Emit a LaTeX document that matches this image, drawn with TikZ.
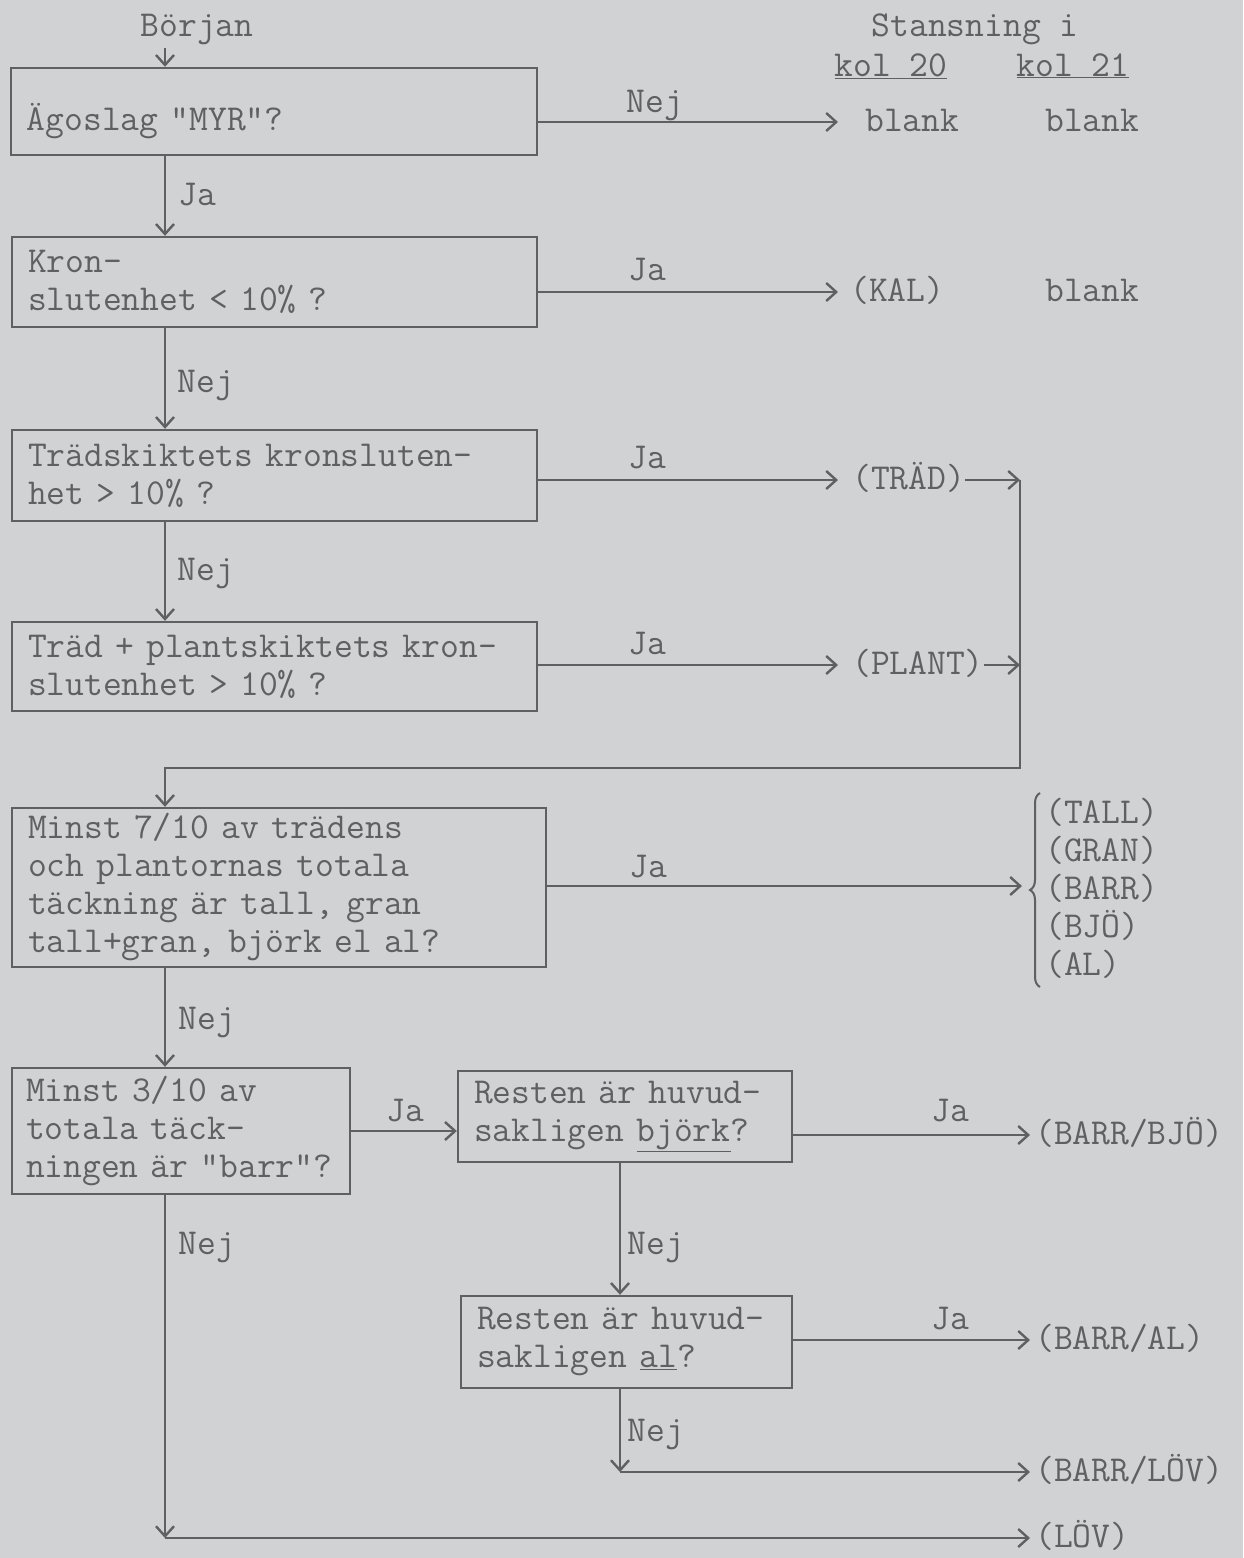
\documentclass[tikz,border=0pt]{standalone}
\usepackage{fontspec}
\usetikzlibrary{arrows.meta,decorations.pathreplacing}
\definecolor{bg}{RGB}{209,210,212}
\definecolor{ink}{RGB}{96,96,96}
\definecolor{txt}{RGB}{96,96,96}
\newcommand{\boxfont}{\ttfamily\fontsize{36.5}{38}\selectfont}
\tikzset{
  box/.style={draw=ink, line width=2.4pt, rectangle, align=left, inner xsep=16pt, inner ysep=4pt, font=\boxfont, text=txt},
  lab/.style={font=\boxfont, text=txt, inner sep=0pt, text height=25pt, text depth=7pt},
  outp/.style={lab, anchor=west},
  ln/.style={draw=ink, line width=2.4pt},
  arr/.style={ln, -{Straight Barb[length=10pt,width=18pt,line width=2.4pt]}},
}
\begin{document}
\begin{tikzpicture}[x=1pt,y=-1pt]
\fill[bg] (0,0) rectangle (1243,1558);
\useasboundingbox (0,0) rectangle (1243,1558);

% header
\node[lab] (start) at (197,27) {Början};
\node[lab] (stans) at (975,27) {Stansning i};
\node[lab] (k20) at (891,67) {\underline{kol 20}};
\node[lab] (k21) at (1073,67) {\underline{kol 21}};
\coordinate (s) at (165,48);

% boxes
\node[box, text width=494pt, minimum height=87pt] (b1) at (274,111.5) {\raisebox{-19pt}[0pt][0pt]{Ägoslag "MYR"?}};
\node[box, text width=493pt, minimum height=90pt] (b2) at (274.5,282) {Kron-\\slutenhet < 10\% ?};
\node[box, text width=493pt, minimum height=91pt] (b3) at (274.5,475.5) {Trädskiktets kronsluten-\\het > 10\% ?};
\node[box, text width=493pt, minimum height=89pt] (b4) at (274.5,666.5) {Träd + plantskiktets kron-\\slutenhet > 10\% ?};
\node[box, text width=502pt, minimum height=159pt] (b5) at (279,887.5) {Minst 7/10 av trädens\\och plantornas totala\\täckning är tall, gran\\tall+gran, björk el al?};
\node[box, inner xsep=14pt, text width=310pt, minimum height=126pt] (b6) at (181,1131) {\mbox{Minst 3/10 av}\\\mbox{totala täck-}\\\mbox{ningen är "barr"?}};
\node[box, text width=302pt, minimum height=91pt] (b7) at (625,1116.5) {\mbox{Resten är huvud-}\\\mbox{sakligen \underline{björk}?}};
\node[box, text width=299pt, minimum height=92pt] (b8) at (626.5,1342) {\mbox{Resten är huvud-}\\\mbox{sakligen \underline{al}?}};

% outputs
\node[outp] (blank20) at (865,122) {blank};
\node[outp] (blank21) at (1045,122) {blank};
\node[outp] (kal) at (850,292) {(KAL)};
\node[outp] (blank21b) at (1045,292) {blank};
\node[outp] (trad) at (852,480) {(TRÄD)};
\node[outp] (plant) at (852,665) {(PLANT)};
\node[font=\boxfont, text=txt, inner sep=0pt, align=left, anchor=west] (list) at (1045,888) {(TALL)\\(GRAN)\\(BARR)\\(BJÖ)\\(AL)};
\node[outp] (barrbjo) at (1035,1135) {(BARR/BJÖ)};
\node[outp] (barral) at (1035,1340) {(BARR/AL)};
\node[outp] (barrlov) at (1035,1472) {(BARR/LÖV)};
\node[outp] (lov) at (1035,1538) {(LÖV)};

% brace
\draw[ln, line width=2pt, decorate, decoration={brace, amplitude=10pt}] (1040,987) -- (1040,793);
\coordinate (bt) at (1022,886);

% junction coordinates
\coordinate (j1) at (1020,480);
\coordinate (j2) at (1020,665);
\coordinate (j3) at (1020,768);
\coordinate (j4) at (165,768);
\coordinate (xc) at (620,1200);
\coordinate (j5) at (620,1472);
\coordinate (j6) at (165,1538);

% labels
\node[lab] (l1) at (655,103) {Nej};
\node[lab] (l2) at (197,196) {Ja};
\node[lab] (l3) at (647,271) {Ja};
\node[lab] (l4) at (206,383) {Nej};
\node[lab] (l5) at (647,459) {Ja};
\node[lab] (l6) at (206,571) {Nej};
\node[lab] (l7) at (647,645) {Ja};
\node[lab] (l8) at (648,868) {Ja};
\node[lab] (l9) at (207,1020) {Nej};
\node[lab] (l10) at (405,1112) {Ja};
\node[lab] (l11) at (950,1112) {Ja};
\node[lab] (l12) at (207,1245) {Nej};
\node[lab] (l13) at (656,1245) {Nej};
\node[lab] (l14) at (950,1320) {Ja};
\node[lab] (l15) at (656,1432) {Nej};

% connectors
\draw[arr] (s) -- (s |- b1.north);
\draw[arr] (b1.south -| s) -- (b2.north -| s);
\draw[arr] (b2.south -| s) -- (b3.north -| s);
\draw[arr] (b3.south -| s) -- (b4.north -| s);
\draw[arr] (b1.east |- blank20.west) -- ([xshift=-27pt]blank20.west);
\draw[arr] (b2.east |- kal.west) -- ([xshift=-12pt]kal.west);
\draw[arr] (b3.east |- trad.west) -- ([xshift=-14pt]trad.west);
\draw[arr] (b4.east |- plant.west) -- ([xshift=-14pt]plant.west);
\draw[arr] (trad.east) -- (j1);
\draw[arr] (plant.east) -- (j2);
\draw[arr] (j1) -- (j3) -- (j4) -- (b5.north -| s);
\draw[arr] (b5.east |- bt) -- (bt);
\draw[arr] (b5.south -| s) -- (b6.north -| s);
\draw[arr] (b6.east) -- (b6.east -| b7.west);
\draw[arr] (b7.east |- barrbjo.west) -- ([xshift=-5pt]barrbjo.west);
\draw[arr] (b7.south -| xc) -- (b8.north -| xc);
\draw[arr] (b8.east |- barral.west) -- ([xshift=-5pt]barral.west);
\draw[arr] (b8.south -| xc) -- (j5);
\draw[arr] (j5) -- ([xshift=-5pt]barrlov.west);
\draw[arr] (b6.south -| s) -- (j6);
\draw[arr] (j6) -- ([xshift=-5pt]lov.west);
\end{tikzpicture}
\end{document}
